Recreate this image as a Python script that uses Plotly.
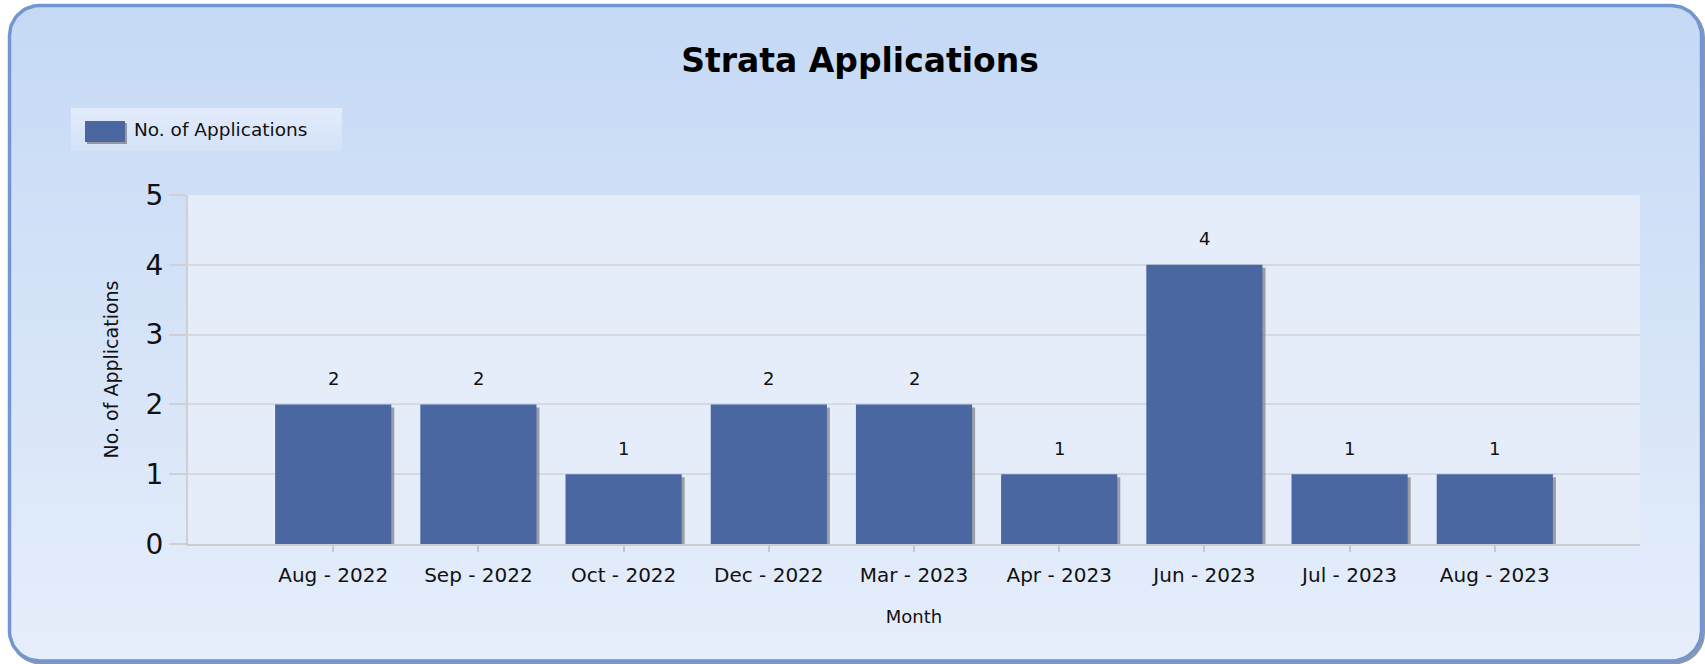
import numpy as np
import plotly.graph_objects as go

# ---- data ----
months = ["Aug - 2022", "Sep - 2022", "Oct - 2022", "Dec - 2022", "Mar - 2023",
          "Apr - 2023", "Jun - 2023", "Jul - 2023", "Aug - 2023"]
applications = [2, 2, 1, 2, 2, 1, 4, 1, 1]
y_ticks = [0, 1, 2, 3, 4, 5]
series_name = "No. of Applications"

# ---- layout constants (pixels) ----
W, H = 1705, 664
PL, PR, PT, PB = 188, 1640, 195, 544
BAR_COLOR = "#4a67a1"
FONT = "DejaVu Sans"


def rrect(x0, y0, x1, y1, r, n=18):
    xs, ys = [], []
    corners = [(x1 - r, y0 + r, -90, 0), (x1 - r, y1 - r, 0, 90),
               (x0 + r, y1 - r, 90, 180), (x0 + r, y0 + r, 180, 270)]
    for cx, cy, a0, a1 in corners:
        t = np.radians(np.linspace(a0, a1, n))
        xs += list(cx + r * np.cos(t))
        ys += list(cy + r * np.sin(t))
    xs.append(xs[0])
    ys.append(ys[0])
    return xs, ys


fig = go.Figure()

deco = dict(xaxis="x", yaxis="y", hoverinfo="skip", showlegend=False, mode="lines")

# frame shadow
sx, sy = rrect(11, 7.5, 1703.5, 663, 30)
fig.add_trace(go.Scatter(x=sx, y=sy, line=dict(color="rgba(70,80,100,0.6)", width=3), **deco))
# frame with gradient
fx, fy = rrect(9.5, 5.5, 1701.5, 661, 30)
fig.add_trace(go.Scatter(x=fx, y=fy, fill="toself",
                         fillgradient=dict(type="vertical", start=5, stop=661,
                                           colorscale=[[0, "#c5d9f5"], [1, "#e6eefb"]]),
                         line=dict(color="#7296d0", width=3.5), **deco))
# plot area
fig.add_trace(go.Scatter(x=[PL, PR, PR, PL, PL], y=[PT, PT, PB, PB, PT], fill="toself",
                         fillcolor="#e5edfa", line=dict(width=0), **deco))
# legend box
fig.add_trace(go.Scatter(x=[71, 342, 342, 71, 71], y=[108, 108, 151, 151, 108], fill="toself",
                         fillgradient=dict(type="vertical", start=108, stop=151,
                                           colorscale=[[0, "#e3ecfb"], [1, "#d3e2f8"]]),
                         line=dict(width=0), **deco))
# legend swatch shadow + swatch
fig.add_trace(go.Scatter(x=[87, 127, 127, 87, 87], y=[123, 123, 144, 144, 123], fill="toself",
                         fillcolor="rgba(90,90,90,0.55)", line=dict(width=0), **deco))
fig.add_trace(go.Scatter(x=[85, 125, 125, 85, 85], y=[121, 121, 142, 142, 121], fill="toself",
                         fillcolor=BAR_COLOR, line=dict(width=0), **deco))

# ---- bars ----
unit_x = (PR - PL) / 10.0
unit_y = (PB - PT) / 5.0
dx = 3 / unit_x
dy = 3 / unit_y
fig.add_trace(go.Bar(x=months, y=applications, base=-dy, width=0.8, offset=-0.4 + dx,
                     marker=dict(color="rgba(95,95,95,0.55)", line=dict(width=0)),
                     xaxis="x2", yaxis="y2", hoverinfo="skip", showlegend=False))
fig.add_trace(go.Bar(x=months, y=applications, name=series_name, width=0.8, offset=-0.4,
                     marker=dict(color=BAR_COLOR, line=dict(width=0)),
                     xaxis="x2", yaxis="y2", showlegend=False))

annotations = []
for m, v in zip(months, applications):
    annotations.append(dict(x=m, y=v, xref="x2", yref="y2", text=str(v), showarrow=False,
                            yshift=26, yanchor="middle",
                            font=dict(family=FONT, size=18, color="#111111")))
annotations.append(dict(x=132 / W, y=1 - 129.5 / H, xref="paper", yref="paper",
                        text=series_name, showarrow=False, xanchor="left", yanchor="middle",
                        font=dict(family=FONT, size=18.5, color="#111111")))

fig.update_layout(
    width=W, height=H,
    autosize=False,
    margin=dict(l=0, r=0, t=0, b=0, pad=0, autoexpand=False),
    paper_bgcolor="white",
    plot_bgcolor="rgba(0,0,0,0)",
    barmode="overlay",
    showlegend=False,
    title=dict(text="<b>Strata Applications</b>", x=860 / W, y=1 - 60 / H,
               xanchor="center", yanchor="middle", automargin=False,
               font=dict(family=FONT, size=33, color="black")),
    xaxis=dict(domain=[0, 1], range=[0, W], visible=False, fixedrange=True),
    yaxis=dict(domain=[0, 1], range=[H, 0], visible=False, fixedrange=True),
    xaxis2=dict(domain=[PL / W, PR / W], anchor="y2", type="category", range=[-1, 9],
                showgrid=False, ticks="outside", ticklen=6, tickwidth=2, tickcolor="#c8c8c8",
                showline=True, linecolor="#cccccc", linewidth=2, ticklabelstandoff=6,
                automargin=False,
                tickfont=dict(family=FONT, size=20, color="#111111"),
                title=dict(text="Month", standoff=24, font=dict(family=FONT, size=18, color="#111111"))),
    yaxis2=dict(domain=[(H - PB) / H, (H - PT) / H], anchor="x2", range=[0, 5],
                tickvals=y_ticks, ticks="outside", ticklen=17, tickwidth=2, tickcolor="#d0d0d0",
                showgrid=True, gridcolor="#d5d9e0", gridwidth=2, zeroline=False,
                showline=True, linecolor="#d0d0d0", linewidth=2, automargin=False,
                tickfont=dict(family=FONT, size=28, color="#111111"),
                title=dict(text="No. of Applications", standoff=22,
                           font=dict(family=FONT, size=19, color="#111111"))),
    annotations=annotations,
)

fig.write_html("out.html", config={"responsive": False, "displayModeBar": False},
               post_script="document.body.style.margin='0';document.body.style.overflow='hidden';")
